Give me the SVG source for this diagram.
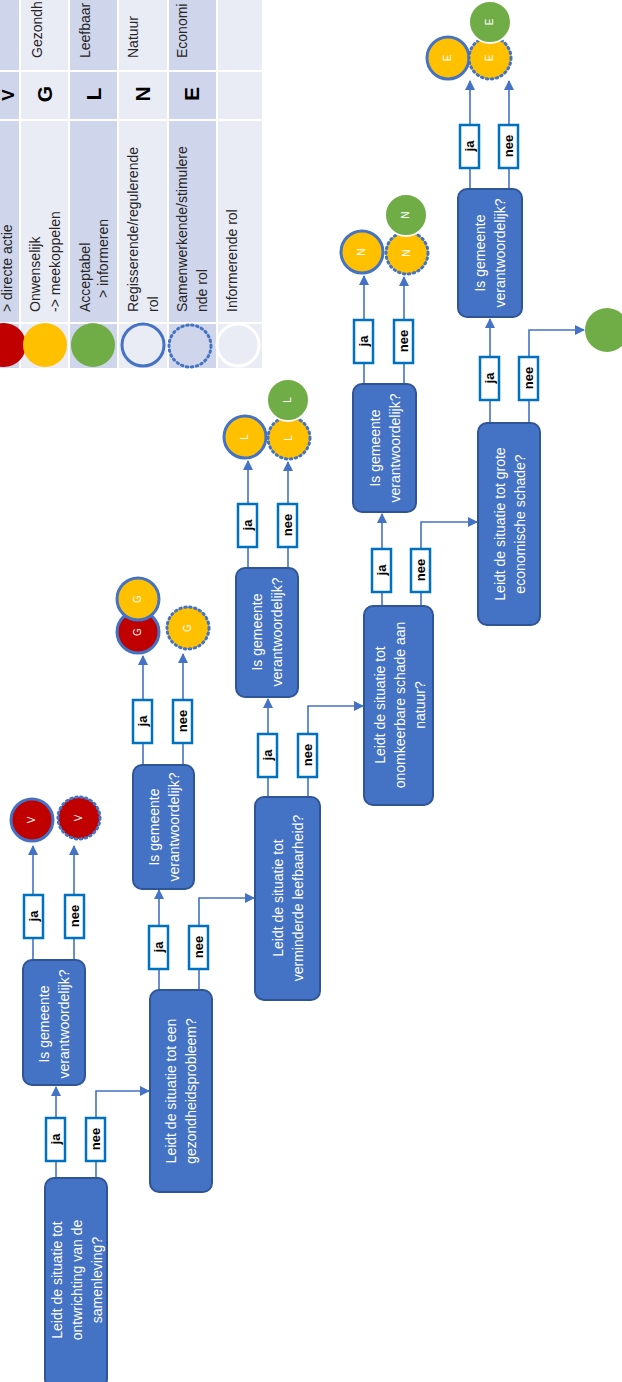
<svg xmlns="http://www.w3.org/2000/svg" width="622" height="1382" viewBox="0 0 622 1382">
<style>
.bg{fill:#ffffff}
.cl{fill:#E9EBF5}
.cd{fill:#CFD5EA}
.grid{stroke:#ffffff;stroke-width:2;fill:none}
.lt{font-family:"Liberation Sans",Arial,sans-serif;font-size:14px;fill:#262626}
.lb{font-family:"Liberation Sans",Arial,sans-serif;font-size:21px;font-weight:bold;fill:#000000;text-anchor:middle}
.box{fill:#4472C4;stroke:#2F5597;stroke-width:2}
.nt{font-family:"Liberation Sans",Arial,sans-serif;font-size:14px;fill:#ffffff;text-anchor:middle}
.lab{fill:#ffffff;stroke:#0070C0;stroke-width:2.5}
.lbt{font-family:"Liberation Sans",Arial,sans-serif;font-size:13px;font-weight:bold;fill:#000000;text-anchor:middle}
.con{fill:none;stroke:#4472C4;stroke-width:1.6}
.red{fill:#C00000}
.yel{fill:#FFC000}
.grn{fill:#70AD47}
.sol{stroke:#4472C4;stroke-width:3}
.dot{stroke:#4472C4;stroke-width:3;stroke-dasharray:1.5 3.5;stroke-linecap:round}
.wr{stroke:#ffffff;stroke-width:2}
.ct{font-family:"Liberation Sans",Arial,sans-serif;font-size:10px;fill:#ffffff;text-anchor:middle}
</style>
<defs>
<marker id="arr" markerWidth="10" markerHeight="10" refX="9" refY="5" orient="auto" markerUnits="userSpaceOnUse">
<path d="M0,0 L10,5 L0,10 z" fill="#4472C4"/>
</marker>
</defs>
<rect class="bg" x="0" y="0" width="622" height="1382"/>

<g id="legend">
<rect class="cd" x="0" y="0" width="20" height="368"/>
<rect class="cl" x="20" y="0" width="49" height="368"/>
<rect class="cd" x="69" y="0" width="49" height="368"/>
<rect class="cl" x="118" y="0" width="50" height="368"/>
<rect class="cd" x="168" y="0" width="49" height="368"/>
<rect class="cl" x="217" y="0" width="45" height="368"/>
<path class="grid" d="M20,0 V368 M69,0 V368 M118,0 V368 M168,0 V368 M217,0 V368 M0,71 H262 M0,120 H262 M0,323 H262"/>
<circle class="red" cx="4" cy="345" r="22"/>
<circle class="yel" cx="45" cy="345" r="22"/>
<circle class="grn" cx="93" cy="345" r="22"/>
<circle class="cl sol" cx="143" cy="345" r="21"/>
<circle class="cd dot" cx="190" cy="346" r="21"/>
<circle class="cl wr" cx="238" cy="345" r="21" style="stroke-width:3"/>
<text class="lt" x="12" y="312" transform="rotate(-90 12 312)">&gt; directe actie</text>
<text class="lt" x="40" y="312" transform="rotate(-90 40 312)">Onwenselijk</text>
<text class="lt" x="60" y="312" transform="rotate(-90 60 312)">-&gt; meekoppelen</text>
<text class="lt" x="90" y="312" transform="rotate(-90 90 312)">Acceptabel</text>
<text class="lt" x="108" y="298" transform="rotate(-90 108 298)">&gt; informeren</text>
<text class="lt" x="138" y="312" transform="rotate(-90 138 312)">Regisserende/regulerende</text>
<text class="lt" x="158" y="312" transform="rotate(-90 158 312)">rol</text>
<text class="lt" x="187" y="312" transform="rotate(-90 187 312)">Samenwerkende/stimulere</text>
<text class="lt" x="207" y="312" transform="rotate(-90 207 312)">nde rol</text>
<text class="lt" x="237" y="312" transform="rotate(-90 237 312)">Informerende rol</text>
<text class="lb" x="14" y="95" transform="rotate(-90 14 95)" style="font-size:17px">V</text>
<text class="lb" x="52" y="94" transform="rotate(-90 52 94)">G</text>
<text class="lb" x="101" y="94" transform="rotate(-90 101 94)">L</text>
<text class="lb" x="150" y="94" transform="rotate(-90 150 94)">N</text>
<text class="lb" x="199" y="94" transform="rotate(-90 199 94)">E</text>
<text class="lt" x="42" y="58" transform="rotate(-90 42 58)">Gezondh</text>
<text class="lt" x="90" y="58" transform="rotate(-90 90 58)">Leefbaar</text>
<text class="lt" x="138" y="58" transform="rotate(-90 138 58)">Natuur</text>
<text class="lt" x="187" y="58" transform="rotate(-90 187 58)">Economi</text>
</g>

<g id="connectors">
<path class="con" d="M56,1178 V1087" marker-end="url(#arr)"/>
<path class="con" d="M96,1178 V1091 H149" marker-end="url(#arr)"/>
<path class="con" d="M33,960 V846" marker-end="url(#arr)"/>
<path class="con" d="M74,960 V846" marker-end="url(#arr)"/>
<path class="con" d="M159,990 V890" marker-end="url(#arr)"/>
<path class="con" d="M199,990 V898 H254" marker-end="url(#arr)"/>
<path class="con" d="M143,765 V656" marker-end="url(#arr)"/>
<path class="con" d="M183,765 V654" marker-end="url(#arr)"/>
<path class="con" d="M268,797 V699" marker-end="url(#arr)"/>
<path class="con" d="M308,797 V706 H363" marker-end="url(#arr)"/>
<path class="con" d="M248,568 V461" marker-end="url(#arr)"/>
<path class="con" d="M288,568 V462" marker-end="url(#arr)"/>
<path class="con" d="M382,606 V514" marker-end="url(#arr)"/>
<path class="con" d="M421,606 V522 H477" marker-end="url(#arr)"/>
<path class="con" d="M364,384 V276" marker-end="url(#arr)"/>
<path class="con" d="M404,384 V277" marker-end="url(#arr)"/>
<path class="con" d="M490,423 V319" marker-end="url(#arr)"/>
<path class="con" d="M529,423 V330 H584" marker-end="url(#arr)"/>
<path class="con" d="M470,189 V81" marker-end="url(#arr)"/>
<path class="con" d="M509,189 V81" marker-end="url(#arr)"/>

<g id="labels">
<rect class="lab" x="46" y="1118" width="19" height="43"/><text class="lbt" x="60" y="1139" transform="rotate(-90 60 1139)">ja</text>
<rect class="lab" x="86" y="1118" width="19" height="43"/><text class="lbt" x="100" y="1139" transform="rotate(-90 100 1139)">nee</text>
<rect class="lab" x="24" y="895" width="19" height="43"/><text class="lbt" x="38" y="916" transform="rotate(-90 38 916)">ja</text>
<rect class="lab" x="65" y="895" width="19" height="43"/><text class="lbt" x="79" y="916" transform="rotate(-90 79 916)">nee</text>
<rect class="lab" x="149" y="926" width="19" height="43"/><text class="lbt" x="163" y="947" transform="rotate(-90 163 947)">ja</text>
<rect class="lab" x="189" y="926" width="19" height="43"/><text class="lbt" x="203" y="947" transform="rotate(-90 203 947)">nee</text>
<rect class="lab" x="133" y="700" width="19" height="43"/><text class="lbt" x="147" y="721" transform="rotate(-90 147 721)">ja</text>
<rect class="lab" x="173" y="700" width="19" height="43"/><text class="lbt" x="187" y="721" transform="rotate(-90 187 721)">nee</text>
<rect class="lab" x="258" y="734" width="19" height="43"/><text class="lbt" x="272" y="755" transform="rotate(-90 272 755)">ja</text>
<rect class="lab" x="298" y="734" width="19" height="43"/><text class="lbt" x="312" y="755" transform="rotate(-90 312 755)">nee</text>
<rect class="lab" x="238" y="504" width="19" height="43"/><text class="lbt" x="252" y="525" transform="rotate(-90 252 525)">ja</text>
<rect class="lab" x="278" y="504" width="19" height="43"/><text class="lbt" x="292" y="525" transform="rotate(-90 292 525)">nee</text>
<rect class="lab" x="372" y="549" width="19" height="43"/><text class="lbt" x="386" y="570" transform="rotate(-90 386 570)">ja</text>
<rect class="lab" x="411" y="549" width="19" height="43"/><text class="lbt" x="425" y="570" transform="rotate(-90 425 570)">nee</text>
<rect class="lab" x="354" y="320" width="19" height="43"/><text class="lbt" x="368" y="341" transform="rotate(-90 368 341)">ja</text>
<rect class="lab" x="394" y="320" width="19" height="43"/><text class="lbt" x="408" y="341" transform="rotate(-90 408 341)">nee</text>
<rect class="lab" x="480" y="357" width="19" height="43"/><text class="lbt" x="494" y="378" transform="rotate(-90 494 378)">ja</text>
<rect class="lab" x="519" y="357" width="19" height="43"/><text class="lbt" x="533" y="378" transform="rotate(-90 533 378)">nee</text>
<rect class="lab" x="460" y="125" width="19" height="43"/><text class="lbt" x="474" y="146" transform="rotate(-90 474 146)">ja</text>
<rect class="lab" x="499" y="125" width="19" height="43"/><text class="lbt" x="513" y="146" transform="rotate(-90 513 146)">nee</text>
</g>
</g>

<g id="n1">
<rect class="box" x="45" y="1178" width="62" height="210" rx="9"/>
<text class="nt" x="62" y="1280" transform="rotate(-90 62 1280)">Leidt de situatie tot</text>
<text class="nt" x="82" y="1280" transform="rotate(-90 82 1280)">ontwrichting van de</text>
<text class="nt" x="102" y="1280" transform="rotate(-90 102 1280)">samenleving?</text>
</g>
<g id="n2">
<rect class="box" x="23" y="960" width="62" height="125" rx="9"/>
<text class="nt" x="49" y="1024" transform="rotate(-90 49 1024)">Is gemeente</text>
<text class="nt" x="69" y="1024" transform="rotate(-90 69 1024)">verantwoordelijk?</text>
</g>
<g id="n3">
<rect class="box" x="150" y="990" width="62" height="202" rx="9"/>
<text class="nt" x="176" y="1091" transform="rotate(-90 176 1091)">Leidt de situatie tot een</text>
<text class="nt" x="196" y="1091" transform="rotate(-90 196 1091)">gezondheidsprobleem?</text>
</g>
<g id="n4">
<rect class="box" x="133" y="765" width="61" height="124" rx="9"/>
<text class="nt" x="159" y="827" transform="rotate(-90 159 827)">Is gemeente</text>
<text class="nt" x="179" y="827" transform="rotate(-90 179 827)">verantwoordelijk?</text>
</g>
<g id="n5">
<rect class="box" x="255" y="797" width="65" height="203" rx="9"/>
<text class="nt" x="283" y="898" transform="rotate(-90 283 898)">Leidt de situatie tot</text>
<text class="nt" x="303" y="898" transform="rotate(-90 303 898)">verminderde leefbaarheid?</text>
</g>
<g id="n6">
<rect class="box" x="236" y="568" width="62" height="129" rx="9"/>
<text class="nt" x="262" y="632" transform="rotate(-90 262 632)">Is gemeente</text>
<text class="nt" x="282" y="632" transform="rotate(-90 282 632)">verantwoordelijk?</text>
</g>
<g id="n7">
<rect class="box" x="364" y="606" width="69" height="199" rx="9"/>
<text class="nt" x="385" y="705" transform="rotate(-90 385 705)">Leidt de situatie tot</text>
<text class="nt" x="405" y="705" transform="rotate(-90 405 705)">onomkeerbare schade aan</text>
<text class="nt" x="425" y="705" transform="rotate(-90 425 705)">natuur?</text>
</g>
<g id="n8">
<rect class="box" x="353" y="384" width="63" height="128" rx="9"/>
<text class="nt" x="380" y="448" transform="rotate(-90 380 448)">Is gemeente</text>
<text class="nt" x="400" y="448" transform="rotate(-90 400 448)">verantwoordelijk?</text>
</g>
<g id="n9">
<rect class="box" x="478" y="423" width="62" height="202" rx="9"/>
<text class="nt" x="505" y="524" transform="rotate(-90 505 524)">Leidt de situatie tot grote</text>
<text class="nt" x="525" y="524" transform="rotate(-90 525 524)">economische schade?</text>
</g>
<g id="n10">
<rect class="box" x="458" y="189" width="64" height="128" rx="9"/>
<text class="nt" x="485" y="253" transform="rotate(-90 485 253)">Is gemeente</text>
<text class="nt" x="505" y="253" transform="rotate(-90 505 253)">verantwoordelijk?</text>
</g>

<g id="outV">
<circle class="red sol" cx="32" cy="820" r="21"/>
<text class="ct" x="35" y="820" transform="rotate(-90 35 820)">V</text>
<circle class="red dot" cx="79" cy="818" r="21"/>
<text class="ct" x="82" y="818" transform="rotate(-90 82 818)">V</text>
</g>
<g id="outG">
<circle class="red sol" cx="138" cy="632" r="21"/>
<text class="ct" x="141" y="632" transform="rotate(-90 141 632)">G</text>
<circle class="yel sol" cx="138" cy="599" r="21"/>
<text class="ct" x="141" y="599" transform="rotate(-90 141 599)">G</text>
<circle class="yel dot" cx="188" cy="628" r="21"/>
<text class="ct" x="191" y="628" transform="rotate(-90 191 628)">G</text>
</g>
<g id="outL">
<circle class="yel sol" cx="245" cy="437" r="21"/>
<text class="ct" x="248" y="437" transform="rotate(-90 248 437)">L</text>
<circle class="yel dot" cx="289" cy="438" r="21"/>
<text class="ct" x="292" y="438" transform="rotate(-90 292 438)">L</text>
<circle class="grn wr" cx="288" cy="400" r="21"/>
<text class="ct" x="291" y="400" transform="rotate(-90 291 400)">L</text>
</g>
<g id="outN">
<circle class="yel sol" cx="362" cy="252" r="21"/>
<text class="ct" x="365" y="252" transform="rotate(-90 365 252)">N</text>
<circle class="yel dot" cx="407" cy="253" r="21"/>
<text class="ct" x="410" y="253" transform="rotate(-90 410 253)">N</text>
<circle class="grn wr" cx="406" cy="215" r="21"/>
<text class="ct" x="409" y="215" transform="rotate(-90 409 215)">N</text>
</g>
<g id="outE">
<circle class="yel sol" cx="448" cy="58" r="21"/>
<text class="ct" x="451" y="58" transform="rotate(-90 451 58)">E</text>
<circle class="yel dot" cx="490" cy="58" r="21"/>
<text class="ct" x="493" y="58" transform="rotate(-90 493 58)">E</text>
<circle class="grn wr" cx="490" cy="22" r="21"/>
<text class="ct" x="493" y="22" transform="rotate(-90 493 22)">E</text>
</g>
<g id="outFinal">
<circle class="grn" cx="607" cy="330" r="22"/>
</g>
</svg>
